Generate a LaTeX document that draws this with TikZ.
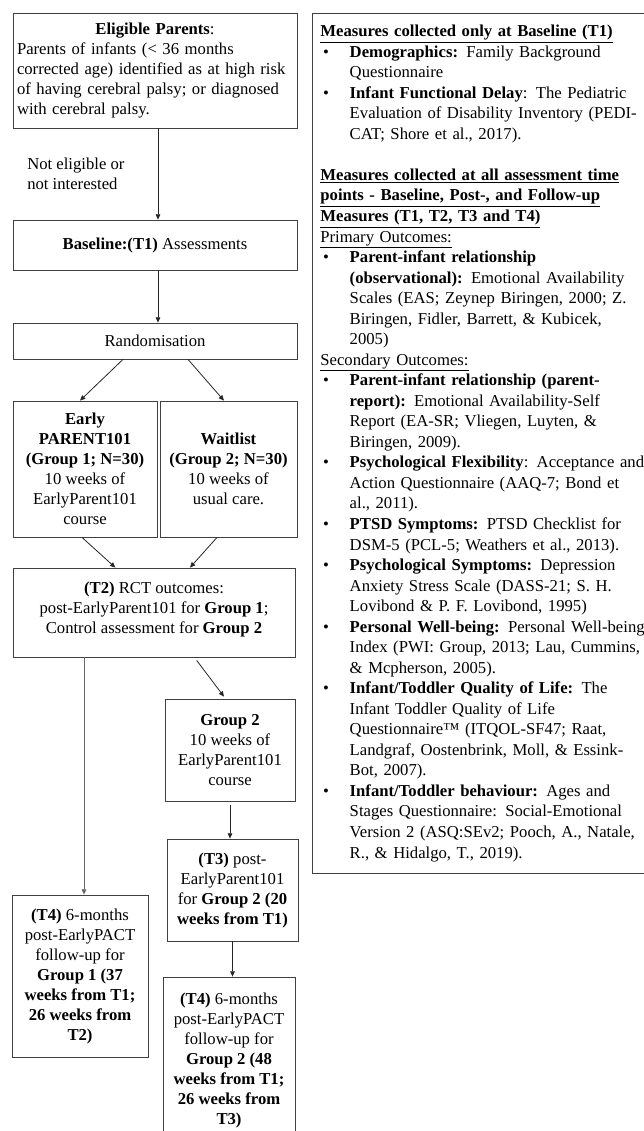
\documentclass[tikz,border=0pt]{standalone}
\usepackage{fontspec}
\setmainfont{Liberation Serif}
\usetikzlibrary{arrows.meta}
\newcommand{\mitem}{\hspace*{2pt}\makebox[20pt][l]{\textbullet}}
\newcommand{\mcont}{\hspace*{22pt}}
\begin{document}
\begin{tikzpicture}[x=0.75pt,y=-0.75pt,font=\fontsize{12.5}{15}\selectfont,
  box/.style={draw=black!75,line width=0.6pt,align=center,inner sep=0pt},
  arr/.style={draw=black!85,line width=0.6pt,-{Triangle[length=4pt,width=3.5pt]}},
  note/.style={align=left,anchor=west,inner sep=0pt},
  meas/.style={draw=black!75,line width=0.6pt,anchor=north west,align=left,text width=264pt,inner xsep=6pt,minimum height=645pt,font=\fontsize{12.5}{15.4}\selectfont}]
  \useasboundingbox (0,0) rectangle (643,1131);
  \node[box,align=left,text width=207pt,minimum width=213pt,minimum height=86.25pt] (elig) at (155,70.5){{\centering\textbf{Eligible Parents}:\par}Parents of infants (< 36 months\\corrected age) identified as at high risk\\of having cerebral palsy; or diagnosed\\with cerebral palsy.};
  \node[note] (excl) at (27,174){Not eligible or\\not interested};
  \node[box,minimum width=213pt,minimum height=37.5pt] (base) at (155,245){\textbf{Baseline:(T1)} Assessments};
  \node[box,minimum width=213pt,minimum height=27pt] (rand) at (155,341){Randomisation};
  \node[box,minimum width=108pt,minimum height=102pt] (early) at (85,469){\textbf{Early}\\\textbf{PARENT101}\\\textbf{(Group 1; N=30)}\\10 weeks of\\EarlyParent101\\course};
  \node[box,minimum width=102.75pt,minimum height=102pt] (wait) at (228.5,469){\textbf{Waitlist}\\\textbf{(Group 2; N=30)}\\10 weeks of\\usual care.};
  \node[box,minimum width=211.5pt,minimum height=66.75pt] (t2) at (154,612.5){\textbf{(T2)} RCT outcomes:\\post-EarlyParent101 for \textbf{Group 1};\\Control assessment for \textbf{Group 2}\\[-8pt]};
  \node[box,minimum width=97.5pt,minimum height=76.5pt] (g2) at (230,750){\textbf{Group 2}\\10 weeks of\\EarlyParent101\\course};
  \node[box,minimum width=98.25pt,minimum height=76.5pt] (t3) at (232.5,890){\textbf{(T3)} post-\\EarlyParent101\\for \textbf{Group 2 (20}\\\textbf{weeks from T1)}};
  \node[box,minimum width=102pt,minimum height=121.5pt] (t4a) at (80,976){\textbf{(T4)} 6-months\\post-EarlyPACT\\follow-up for\\\textbf{Group 1 (37}\\\textbf{weeks from T1;}\\\textbf{26 weeks from}\\\textbf{T2)}};
  \node[box,minimum width=99pt,minimum height=124.5pt] (t4b) at (229,1060){\textbf{(T4)} 6-months\\post-EarlyPACT\\follow-up for\\\textbf{Group 2 (48}\\\textbf{weeks from T1;}\\\textbf{26 weeks from}\\\textbf{T3)}};
  \node[meas] (msr) at (312,13){\underline{\textbf{Measures collected only at Baseline (T1)}}\\
    \mitem\textbf{Demographics:} Family Background\\
    \mcont Questionnaire\\
    \mitem\textbf{Infant Functional Delay}: The Pediatric\\
    \mcont Evaluation of Disability Inventory (PEDI-\\
    \mcont CAT; Shore et al., 2017).\\[15.4pt]
    \underline{\textbf{Measures collected at all assessment time}}\\
    \underline{\textbf{points - Baseline, Post-, and Follow-up}}\\
    \underline{\textbf{Measures (T1, T2, T3 and T4)}}\\
    \underline{Primary Outcomes:}\\
    \mitem\textbf{Parent-infant relationship}\\
    \mcont\textbf{(observational):} Emotional Availability\\
    \mcont Scales (EAS; Zeynep Biringen, 2000; Z.\\
    \mcont Biringen, Fidler, Barrett, \& Kubicek,\\
    \mcont 2005)\\
    \underline{Secondary Outcomes:}\\
    \mitem\textbf{Parent-infant relationship (parent-}\\
    \mcont\textbf{report):} Emotional Availability-Self\\
    \mcont Report (EA-SR; Vliegen, Luyten, \&\\
    \mcont Biringen, 2009).\\
    \mitem\textbf{Psychological Flexibility}: Acceptance and\\
    \mcont Action Questionnaire (AAQ-7; Bond et\\
    \mcont al., 2011).\\
    \mitem\textbf{PTSD Symptoms:} PTSD Checklist for\\
    \mcont DSM-5 (PCL-5; Weathers et al., 2013).\\
    \mitem\textbf{Psychological Symptoms:} Depression\\
    \mcont Anxiety Stress Scale (DASS-21; S. H.\\
    \mcont Lovibond \& P. F. Lovibond, 1995)\\
    \mitem\textbf{Personal Well-being:} Personal Well-being\\
    \mcont Index (PWI: Group, 2013; Lau, Cummins,\\
    \mcont \& Mcpherson, 2005).\\
    \mitem\textbf{Infant/Toddler Quality of Life:} The\\
    \mcont Infant Toddler Quality of Life\\
    \mcont Questionnaire™ (ITQOL-SF47; Raat,\\
    \mcont Landgraf, Oostenbrink, Moll, \& Essink-\\
    \mcont Bot, 2007).\\
    \mitem\textbf{Infant/Toddler behaviour:} Ages and\\
    \mcont Stages Questionnaire: Social-Emotional\\
    \mcont Version 2 (ASQ:SEv2; Pooch, A., Natale,\\
    \mcont R., \& Hidalgo, T., 2019).};
  \draw[arr] ([xshift=2.25pt]elig.south) -- ([xshift=2.25pt]base.north);
  \draw[arr] ([xshift=2.25pt]base.south) -- ([xshift=2.25pt]rand.north);
  \draw[arr] ([xshift=-24pt]rand.south) -- ([xshift=-3.75pt]early.north);
  \draw[arr] ([xshift=24.75pt]rand.south) -- ([xshift=-3.4pt]wait.north);
  \draw[arr] ([xshift=-2.25pt]early.south) -- ([xshift=-29pt]t2.north);
  \draw[arr] ([xshift=-8.6pt]wait.south) -- ([xshift=27pt]t2.north);
  \draw[arr,draw=black!60] ([xshift=3pt]t4a.north |- t2.south) -- ([xshift=3pt]t4a.north);
  \draw[arr] ([xshift=32pt,yshift=-2.25pt]t2.south) -- ([xshift=-4.5pt,yshift=1.5pt]g2.north);
  \draw[arr] ([yshift=-3pt]g2.south) -- (g2.south |- t3.north);
  \draw[arr] (t3.south) -- (t3.south |- t4b.north);
\end{tikzpicture}
\end{document}
